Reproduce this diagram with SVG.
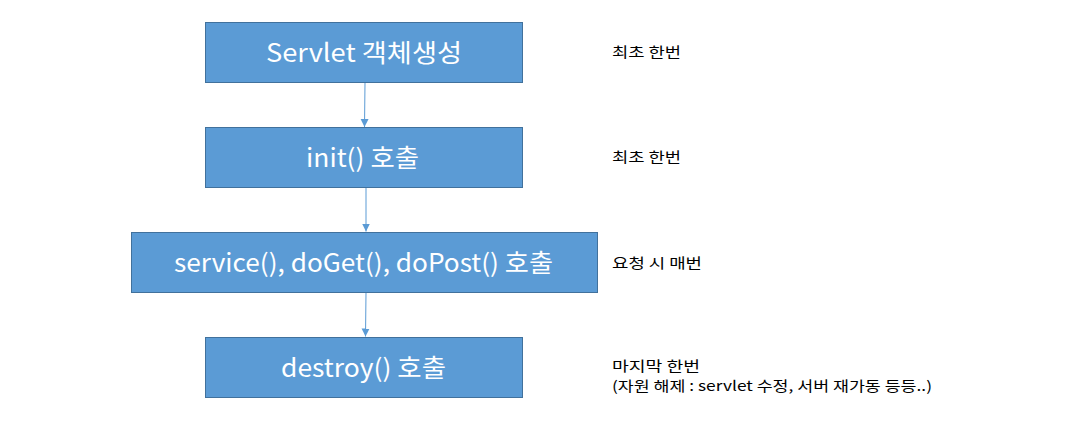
<svg xmlns="http://www.w3.org/2000/svg" width="1074" height="424" viewBox="0 0 1074 424">
<style>
.box{fill:#5B9BD5;stroke:#41719C;stroke-width:1}
.bt{font-family:"Noto Sans CJK KR","Open Sans",sans-serif;font-size:25px;fill:#fff;text-anchor:middle;dominant-baseline:central}
.nt{font-family:"Noto Sans CJK KR","Noto Sans",sans-serif;font-size:14px;fill:#000}
.con{stroke:#5B9BD5;stroke-width:1;fill:none;marker-end:url(#ah)}
</style>
<defs>
<marker id="ah" markerWidth="10" markerHeight="10" refX="8" refY="5" orient="auto" markerUnits="userSpaceOnUse">
<path d="M0,1 L8,5 L0,9 Z" fill="#5B9BD5"/>
</marker>
</defs>
<rect width="1074" height="424" fill="#fff"/>
<g id="connectors">
<line class="con" x1="365" y1="82.5" x2="364.5" y2="127"/>
<line class="con" x1="366" y1="187.5" x2="366" y2="231.5"/>
<line class="con" x1="366" y1="292.5" x2="365.5" y2="336.5"/>
</g>
<g id="n1"><rect class="box" x="205.5" y="22.5" width="317" height="60"/><text class="bt" x="364" y="51" textLength="196" lengthAdjust="spacingAndGlyphs">Servlet 객체생성</text></g>
<g id="n2"><rect class="box" x="205.5" y="127.5" width="317" height="60"/><text class="bt" x="362.5" y="156" textLength="113" lengthAdjust="spacingAndGlyphs">init() 호출</text></g>
<g id="n3"><rect class="box" x="131.5" y="232.5" width="466" height="60"/><text class="bt" x="363.5" y="261" textLength="379" lengthAdjust="spacingAndGlyphs">service(), doGet(), doPost() 호출</text></g>
<g id="n4"><rect class="box" x="205.5" y="337.5" width="317" height="60"/><text class="bt" x="363.5" y="366" textLength="165" lengthAdjust="spacingAndGlyphs">destroy() 호출</text></g>
<g id="notes">
<text class="nt" x="612" y="57" textLength="69" lengthAdjust="spacingAndGlyphs">최초 한번</text>
<text class="nt" x="612" y="162" textLength="69" lengthAdjust="spacingAndGlyphs">최초 한번</text>
<text class="nt" x="612" y="268" textLength="90" lengthAdjust="spacingAndGlyphs">요청 시 매번</text>
<text class="nt" x="612" y="371" textLength="88" lengthAdjust="spacingAndGlyphs">마지막 한번</text>
<text class="nt" x="612" y="391" textLength="320" lengthAdjust="spacingAndGlyphs">(자원 해제 : servlet 수정, 서버 재가동 등등..)</text>
</g>
</svg>
